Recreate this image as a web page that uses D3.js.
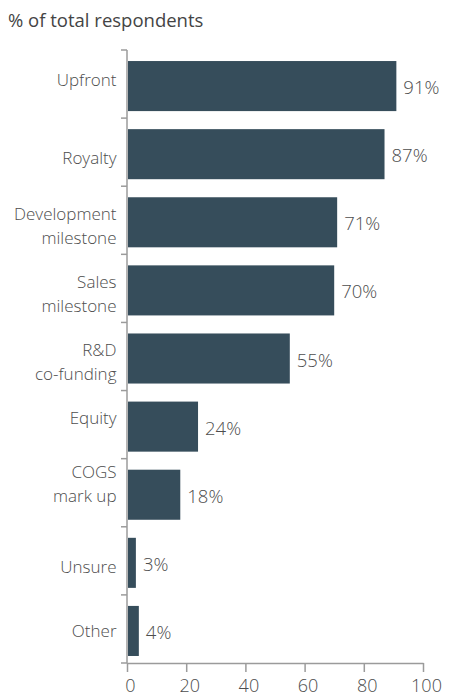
<!DOCTYPE html>
<html>
<head>
<meta charset="utf-8">
<script src="https://cdn.jsdelivr.net/npm/d3@7"></script>
<style>
  html, body { margin: 0; padding: 0; background: #fff; }
  svg { display: block; font-family: "Open Sans", "Noto Sans", sans-serif; font-weight: 300; }
</style>
</head>
<body>
<svg id="chart" width="451" height="699"></svg>
<script>
// Payment types used in deals, share of respondents
const categories = ["Upfront", "Royalty", "Development\nmilestone", "Sales\nmilestone",
  "R&D\nco-funding", "Equity", "COGS\nmark up", "Unsure", "Other"];
const values = [91, 87, 71, 70, 55, 24, 18, 3, 4];
const xTicks = [0, 20, 40, 60, 80, 100];
const title = "% of total respondents";

// vertical nudges for the category labels (px)
const labelShift = [-6, 4, 4, 4, 3, -9, -11, 4, 0];

const svg = d3.select("#chart");
const margin = { left: 127, right: 28, top: 50, bottom: 36 };
const W = 451, H = 699;
const textColor = "#4d4d4d";
const axisColor = "#9b9b9b";
const barColor = "#364d5b";

const x = d3.scaleLinear().domain([0, 100]).range([margin.left, W - margin.right]);
const y = d3.scaleBand().domain(categories).range([margin.top, H - margin.bottom]).padding(0);
const bw = y.bandwidth();
const barTop = c => y(c) + bw * 0.162;
const barH = bw * 0.735;

svg.append("text")
  .attr("x", 8).attr("y", 27)
  .attr("font-size", 18.5).attr("fill", "#444").attr("font-weight", 400)
  .text(title);

// bars
svg.append("g").selectAll("rect")
  .data(categories)
  .join("rect")
  .attr("x", x(0) + 1)
  .attr("y", c => barTop(c))
  .attr("width", (c, i) => x(values[i]) - x(0) - 1)
  .attr("height", barH)
  .attr("fill", barColor);

// value labels
svg.append("g").selectAll("text")
  .data(categories)
  .join("text")
  .attr("x", (c, i) => x(values[i]) + 7)
  .attr("y", c => barTop(c) + barH / 2 + 8)
  .attr("font-size", 18.5)
  .attr("fill", textColor)
  .text((c, i) => values[i] + "%");

// y axis: vertical line with ticks on the band boundaries
const yAxis = svg.append("g");
yAxis.append("line")
  .attr("x1", x(0)).attr("x2", x(0))
  .attr("y1", y.range()[0]).attr("y2", y.range()[1])
  .attr("stroke", axisColor).attr("stroke-width", 1.5);
const bounds = categories.map(c => y(c)).concat([y.range()[1]]);
yAxis.selectAll("line.tick")
  .data(bounds)
  .join("line")
  .attr("class", "tick")
  .attr("x1", x(0) - 6).attr("x2", x(0))
  .attr("y1", d => d).attr("y2", d => d)
  .attr("stroke", axisColor).attr("stroke-width", 1.5);

// category labels
const catG = svg.append("g");
categories.forEach((c, i) => {
  const lines = c.split("\n");
  const cy = barTop(c) + barH / 2 + labelShift[i];
  const lh = 24;
  const t = catG.append("text")
    .attr("text-anchor", "end")
    .attr("font-size", 17)
    .attr("fill", textColor);
  lines.forEach((ln, k) => {
    t.append("tspan")
      .attr("x", x(0) - 10.5)
      .attr("y", cy + 6 + (k - (lines.length - 1) / 2) * lh)
      .text(ln);
  });
});

// x axis
const xAxis = svg.append("g")
  .attr("transform", `translate(0,${y.range()[1]})`)
  .call(d3.axisBottom(x).tickValues(xTicks).tickSize(9).tickSizeOuter(0).tickPadding(7));
xAxis.select(".domain").attr("stroke", axisColor).attr("stroke-width", 1.5);
xAxis.selectAll(".tick line").attr("stroke", axisColor).attr("stroke-width", 1.5);
xAxis.selectAll(".tick text")
  .attr("font-size", 18)
  .attr("dx", 3)
  .attr("font-family", "\"Open Sans\", \"Noto Sans\", sans-serif")
  .attr("font-weight", 300)
  .attr("fill", textColor);
</script>
</body>
</html>
